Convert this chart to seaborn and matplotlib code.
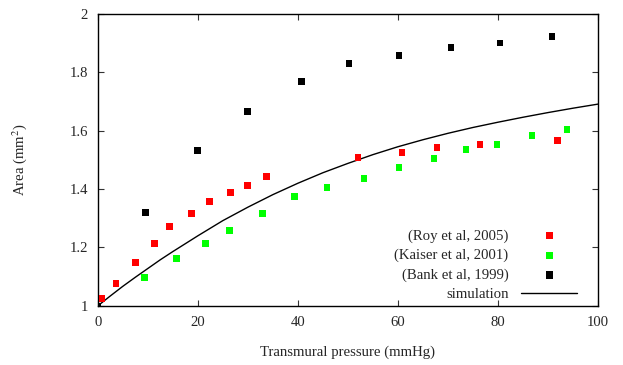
import matplotlib
matplotlib.use("Agg")
import matplotlib.pyplot as plt
import seaborn as sns
import pandas as pd

# data
roy_x = [0.8, 3.6, 7.5, 11.3, 14.3, 18.7, 22.3, 26.5, 29.9, 33.7, 52.0, 60.8, 67.8, 76.4, 91.9]
roy_y = [1.025, 1.076, 1.148, 1.213, 1.272, 1.316, 1.357, 1.388, 1.412, 1.443,
         1.508, 1.525, 1.542, 1.552, 1.566]

kaiser_x = [9.3, 15.7, 21.5, 26.3, 32.9, 39.3, 45.8, 53.2, 60.2, 67.2, 73.6, 79.8, 86.8, 93.8]
kaiser_y = [1.097, 1.162, 1.213, 1.258, 1.316, 1.374, 1.405, 1.436, 1.474, 1.504,
            1.535, 1.552, 1.583, 1.604]

bank_x = [0.0, 9.5, 19.9, 29.9, 40.7, 50.2, 60.2, 70.6, 80.4, 90.8]
bank_y = [1.0, 1.320, 1.532, 1.665, 1.768, 1.830, 1.857, 1.884, 1.901, 1.922]

sim_x = [0, 2.5, 5, 7.5, 10, 12.5, 15, 17.5, 20, 25, 30, 35, 40, 45, 50, 55, 60,
         65, 70, 75, 80, 85, 90, 95, 100]
sim_y = [1.0, 1.034, 1.067, 1.098, 1.128, 1.158, 1.186, 1.213, 1.24, 1.292, 1.338,
         1.381, 1.42, 1.456, 1.488, 1.518, 1.545, 1.569, 1.591, 1.611, 1.629,
         1.646, 1.662, 1.677, 1.691]

series = [
    ("(Roy et al, 2005)", roy_x, roy_y, "#ff0000"),
    ("(Kaiser et al, 2001)", kaiser_x, kaiser_y, "#00ff00"),
    ("(Bank et al, 1999)", bank_x, bank_y, "#000000"),
]

sns.set_style("ticks")
plt.rcParams["font.family"] = ["Liberation Serif", "DejaVu Serif"]
plt.rcParams["mathtext.fontset"] = "stix"
FS = 10.6

fig = plt.figure(figsize=(6.23, 3.65), dpi=100)
ax = fig.add_axes([0.157, 0.162, 0.803, 0.8])

for name, xs, ys, col in series:
    df = pd.DataFrame({"x": xs, "y": ys})
    sns.scatterplot(data=df, x="x", y="y", ax=ax, marker="s", s=22, color=col,
                    edgecolor="none", linewidth=0, label=name, zorder=3)

sim = pd.DataFrame({"x": sim_x, "y": sim_y})
sns.lineplot(data=sim, x="x", y="y", ax=ax, color="black", linewidth=1.0,
             label="simulation", zorder=2)

ax.set_xlim(0, 100)
ax.set_ylim(1, 2)
ax.set_xticks([0, 20, 40, 60, 80, 100])
ax.set_yticks([1, 1.2, 1.4, 1.6, 1.8, 2])
ax.set_yticklabels(["1", "1.2", "1.4", "1.6", "1.8", "2"])
ax.tick_params(direction="in", length=4, width=0.8, top=True, right=True,
               labelsize=FS, pad=7, color="#333333")
for sp in ax.spines.values():
    sp.set_linewidth(1.0)
    sp.set_color("black")

ax.set_xlabel("Transmural pressure (mmHg)", fontsize=FS, labelpad=12)
ax.set_ylabel("Area (mm$^2$)", fontsize=FS, labelpad=29)

leg = ax.legend(loc="lower right", bbox_to_anchor=(0.958, 0.015), frameon=False,
                markerfirst=False, fontsize=FS, handlelength=3.8, handletextpad=0.85,
                labelspacing=0.42, borderaxespad=0, borderpad=0)
for h in leg.legend_handles:
    if hasattr(h, "set_sizes"):
        h.set_sizes([26])

fig.savefig("out.png", dpi=100)
